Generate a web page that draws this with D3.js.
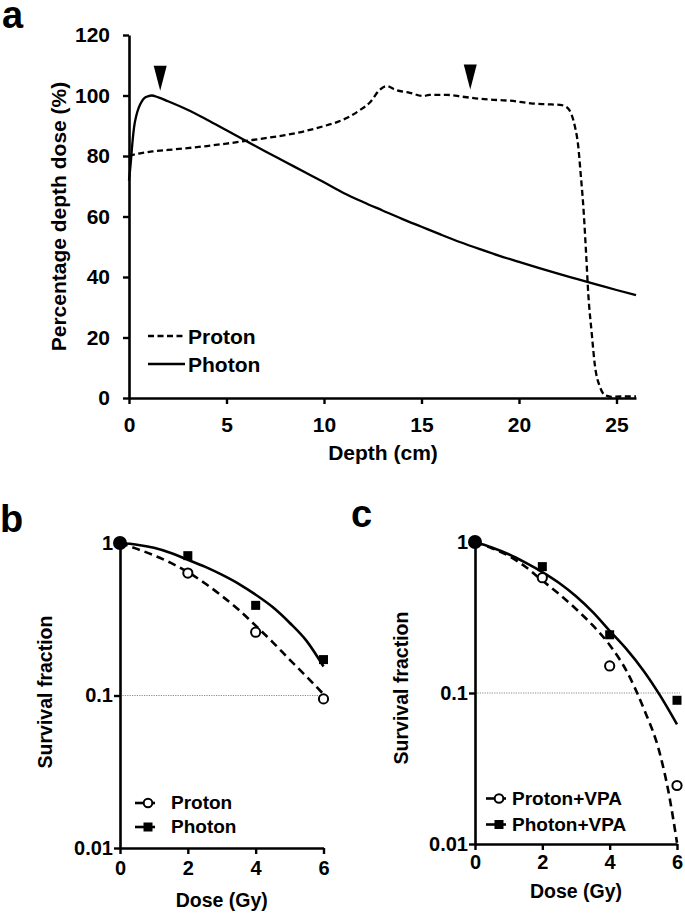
<!DOCTYPE html>
<html><head><meta charset="utf-8">
<script src="https://cdn.jsdelivr.net/npm/d3@7"></script>
<style>
body{margin:0;background:#fff}
svg{display:block}
text{font-family:"Liberation Sans",Arial,Helvetica,sans-serif;font-weight:bold;fill:#000}
</style>
</head><body>
<svg id="chart" width="685" height="914"></svg>
<script>
// ---------- Panel a: depth dose ----------
const depthTicks = [0, 5, 10, 15, 20, 25];
const pddTicks = [0, 20, 40, 60, 80, 100, 120];
const protonDepth = [0, 0.5, 1.2, 2, 3, 4, 5, 6, 7, 8, 9, 10, 10.7, 11.3, 11.8, 12.4, 12.8, 13.2, 13.7, 14.4, 15.1, 15.4, 16.3, 17.1, 18, 18.9, 19.7, 20.6, 21.4, 22.1, 22.45, 22.7, 22.87, 23.04, 23.16, 23.3, 23.44, 23.55, 23.73, 23.9, 24.15, 24.4, 24.75, 25.2, 26];
const protonDose = [80, 80.8, 81.5, 82, 82.6, 83.3, 84.1, 85, 85.9, 86.9, 88.2, 89.9, 91.3, 93, 95, 98, 101.5, 103.1, 101.8, 100.9, 99.8, 100.2, 100.2, 99.6, 98.9, 98.5, 98.2, 97.4, 97.1, 96.9, 96.1, 93.6, 89.7, 83.1, 74.3, 63.2, 47.9, 34.7, 21.4, 10.4, 3.7, 1, 0.4, 0.5, 0.5];
const photonDepth = [0, 0.05, 0.1, 0.17, 0.26, 0.38, 0.5, 0.65, 0.8, 1.0, 1.15, 1.5, 2, 3, 4, 5, 6, 7, 8, 9, 10, 11, 12, 13, 14, 15, 16, 17, 18, 19, 20, 21, 22, 23, 24, 25, 26];
const photonDose = [71.9, 75, 78.5, 84, 89.5, 93.5, 96, 98, 99.2, 99.8, 100, 99.4, 98.1, 95.3, 92, 88.5, 85, 81.5, 78.1, 74.7, 71.3, 67.8, 64.8, 62, 59.2, 56.6, 54, 51.5, 49.2, 47, 45, 43, 41.1, 39.3, 37.5, 35.7, 34];
const arrowDepth = [1.6, 17.5];
const arrowTip = [101.6, 102];
const legendA = ["Proton", "Photon"];

// ---------- Panels b, c: survival ----------
const doseTicks = [0, 2, 4, 6];
const sfTicks = [0.01, 0.1, 1];
const dosePoints = [0, 2, 4, 6];
const protonSF_b = [1, 0.635, 0.26, 0.095];
const photonSF_b = [1, 0.826, 0.39, 0.172];
const fitDose = [0, 0.5, 1, 1.5, 2, 2.5, 3, 3.5, 4, 4.5, 5, 5.5, 6];
const protonFit_b = [1, 0.915, 0.83, 0.74, 0.645, 0.545, 0.45, 0.365, 0.287, 0.224, 0.172, 0.133, 0.102];
const photonFit_b = [1, 0.975, 0.93, 0.86, 0.776, 0.70, 0.62, 0.54, 0.458, 0.38, 0.30, 0.228, 0.155];
const protonSF_c = [1, 0.58, 0.151, 0.0244];
const photonSF_c = [1, 0.687, 0.243, 0.0895];
const fitDoseC = [0, 0.5, 1, 1.5, 2, 2.5, 3, 3.5, 4, 4.5, 5, 5.5, 5.75, 6];
const protonFit_c = [1, 0.91, 0.81, 0.685, 0.555, 0.452, 0.36, 0.28, 0.208, 0.14, 0.08, 0.039, 0.022, 0.0102];
const photonFit_c = [1, 0.92, 0.83, 0.73, 0.632, 0.535, 0.437, 0.343, 0.258, 0.195, 0.141, 0.096, 0.062];
const refSF = [0.1];
const legendB = ["Proton", "Photon"];
const legendC = ["Proton+VPA", "Photon+VPA"];

const FONT = '"Liberation Sans",Arial,Helvetica,sans-serif';
const svg = d3.select("#chart");

function styleAxis(g, size) {
  g.attr("font-family", FONT).attr("font-size", size).attr("font-weight", "bold");
  g.selectAll("path.domain").attr("stroke", "#000").attr("stroke-width", 2.6);
  g.selectAll(".tick line").attr("stroke", "#000").attr("stroke-width", 2.4);
  g.selectAll(".tick text").attr("fill", "#000");
}
function zip(xs, ys) { return xs.map((x, i) => [x, ys[i]]); }

// ===== Panel a =====
const xA = d3.scaleLinear().domain([0, 26]).range([129, 636]);
const yA = d3.scaleLinear().domain([0, 120]).range([398, 35]);
const gA = svg.append("g");
gA.append("g").attr("transform", "translate(0,398)")
  .call(d3.axisBottom(xA).tickValues(depthTicks).tickSize(6).tickPadding(13).tickSizeOuter(0).tickFormat(d3.format("d")))
  .call(g => styleAxis(g, 21));
gA.append("g").attr("transform", "translate(129,0)")
  .call(d3.axisLeft(yA).tickValues(pddTicks).tickSize(6).tickPadding(13).tickSizeOuter(0).tickFormat(d3.format("d")))
  .call(g => styleAxis(g, 21));

const lineA = d3.line().x(d => xA(d[0])).y(d => yA(d[1])).curve(d3.curveMonotoneX);
gA.append("path").datum(zip(photonDepth, photonDose)).attr("d", lineA)
  .attr("fill", "none").attr("stroke", "#000").attr("stroke-width", 2.3);
gA.append("path").datum(zip(protonDepth, protonDose)).attr("d", lineA)
  .attr("fill", "none").attr("stroke", "#000").attr("stroke-width", 2.3).attr("stroke-dasharray", "6,3.5");

gA.selectAll("path.arrow").data(zip(arrowDepth, arrowTip)).join("path").attr("class", "arrow")
  .attr("d", d => { const x = xA(d[0]), y = yA(d[1]); return `M${x - 6.5},${y - 25}L${x + 6.5},${y - 25}L${x},${y}Z`; })
  .attr("fill", "#000");

gA.append("text").attr("x", 383).attr("y", 460).attr("text-anchor", "middle").attr("font-size", 21).text("Depth (cm)");
gA.append("text").attr("transform", "translate(66,216.5) rotate(-90)").attr("text-anchor", "middle").attr("font-size", 21).text("Percentage depth dose (%)");
gA.append("text").attr("x", 2).attr("y", 28).attr("font-size", 38).text("a");

const legA = gA.selectAll("g.leg").data(legendA).join("g").attr("class", "leg")
  .attr("transform", (d, i) => `translate(148,${336 + i * 28})`);
legA.append("line").attr("x1", 0).attr("x2", 37).attr("y1", 0).attr("y2", 0)
  .attr("stroke", "#000").attr("stroke-width", 2.3).attr("stroke-dasharray", (d, i) => i === 0 ? "6,3.5" : null);
legA.append("text").attr("x", 40).attr("y", 7.5).attr("font-size", 21).text(d => d);

// ===== Survival panels =====
function survivalPanel(opts) {
  const { x0, x1, yTop, yBot, protonSF, photonSF, protonFit, photonFit, protonFitDose, photonFitDose,
          legend, letter, letterX, letterY, titleX, titleY, ytitleX, ytitleY, xPad, legX, legY, legTextX, legGap } = opts;
  const x = d3.scaleLinear().domain([0, 6]).range([x0, x1]);
  const y = d3.scaleLog().domain([0.01, 1]).range([yBot, yTop]);
  const g = svg.append("g");
  g.selectAll("line.ref").data(refSF).join("line").attr("class", "ref")
    .attr("x1", x(0)).attr("x2", x(6) + 3).attr("y1", d => y(d)).attr("y2", d => y(d))
    .attr("stroke", "#8a8a8a").attr("stroke-width", 1).attr("stroke-dasharray", "1.2,1.2");
  g.append("g").attr("transform", `translate(0,${yBot})`)
    .call(d3.axisBottom(x).tickValues(doseTicks).tickSize(6).tickPadding(xPad).tickSizeOuter(0).tickFormat(d3.format("d")))
    .call(a => styleAxis(a, 20));
  g.append("g").attr("transform", `translate(${x0},0)`)
    .call(d3.axisLeft(y).tickValues(sfTicks).tickSize(6).tickPadding(1).tickSizeOuter(0).tickFormat(d => String(d)))
    .call(a => styleAxis(a, 20));
  const line = d3.line().x(d => x(d[0])).y(d => y(d[1])).curve(d3.curveMonotoneX);
  g.append("path").datum(zip(photonFitDose, photonFit)).attr("d", line)
    .attr("fill", "none").attr("stroke", "#000").attr("stroke-width", 2.6);
  g.append("path").datum(zip(protonFitDose, protonFit)).attr("d", line)
    .attr("fill", "none").attr("stroke", "#000").attr("stroke-width", 2.6).attr("stroke-dasharray", "8,5");
  g.selectAll("rect.pt").data(zip(dosePoints, photonSF)).join("rect").attr("class", "pt")
    .attr("x", d => x(d[0]) - 4.5).attr("y", d => y(d[1]) - 4.5).attr("width", 9).attr("height", 9).attr("fill", "#000");
  g.selectAll("circle.pt").data(zip(dosePoints, protonSF)).join("circle").attr("class", "pt")
    .attr("cx", d => x(d[0])).attr("cy", d => y(d[1]))
    .attr("r", (d, i) => i === 0 ? 6 : 4.6)
    .attr("fill", (d, i) => i === 0 ? "#000" : "#fff").attr("stroke", "#000").attr("stroke-width", 2);
  g.append("text").attr("x", titleX).attr("y", titleY).attr("text-anchor", "middle").attr("font-size", 19.5).text("Dose (Gy)");
  g.append("text").attr("transform", `translate(${ytitleX},${ytitleY}) rotate(-90)`).attr("text-anchor", "middle").attr("font-size", 19.5).text("Survival fraction");
  g.append("text").attr("x", letterX).attr("y", letterY).attr("font-size", 38).text(letter);
  const leg = g.selectAll("g.leg").data(legend).join("g").attr("class", "leg")
    .attr("transform", (d, i) => `translate(${legX},${legY + i * legGap})`);
  leg.append("line").attr("x1", 0).attr("x2", 20).attr("y1", 0).attr("y2", 0).attr("stroke", "#000").attr("stroke-width", 2.6);
  leg.filter((d, i) => i === 0).append("circle").attr("cx", 13).attr("cy", 0).attr("r", 4.3)
    .attr("fill", "#fff").attr("stroke", "#000").attr("stroke-width", 2);
  leg.filter((d, i) => i === 1).append("rect").attr("x", 8.5).attr("y", -4.5).attr("width", 9).attr("height", 9).attr("fill", "#000");
  leg.append("text").attr("x", legTextX).attr("y", 6).attr("font-size", 19).text(d => d);
}

survivalPanel({
  x0: 120, x1: 323.5, yTop: 543, yBot: 848,
  protonSF: protonSF_b, photonSF: photonSF_b, protonFit: protonFit_b, photonFit: photonFit_b,
  protonFitDose: fitDose, photonFitDose: fitDose,
  legend: legendB, letter: "b", letterX: 0, letterY: 532,
  titleX: 221.7, titleY: 907, ytitleX: 51.5, ytitleY: 692, xPad: 7,
  legX: 135, legY: 803, legTextX: 36, legGap: 24
});
survivalPanel({
  x0: 475, x1: 677, yTop: 542, yBot: 844,
  protonSF: protonSF_c, photonSF: photonSF_c, protonFit: protonFit_c, photonFit: photonFit_c,
  protonFitDose: fitDoseC, photonFitDose: fitDose,
  legend: legendC, letter: "c", letterX: 351, letterY: 527,
  titleX: 576, titleY: 898, ytitleX: 408, ytitleY: 688, xPad: 5,
  legX: 486, legY: 798.5, legTextX: 26, legGap: 26
});
</script>
</body></html>
